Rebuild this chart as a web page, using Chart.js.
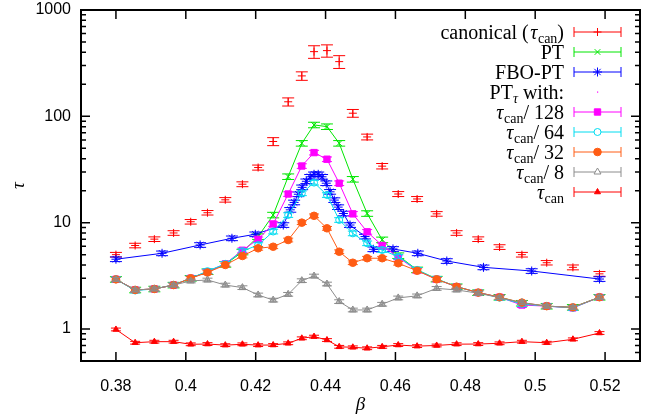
<!DOCTYPE html>
<html>
<head>
<meta charset="utf-8">
<script src="https://cdn.jsdelivr.net/npm/chart.js@4/dist/chart.umd.min.js"></script>
<style>
  html, body { margin: 0; padding: 0; background: #fff; }
</style>
</head>
<body>
<canvas id="tauChart" width="654" height="419"></canvas>
<script>
// beta grid shared by the canonical and PT_tau runs
const betaGrid = [0.380, 0.3855, 0.391, 0.3965, 0.4014, 0.4062, 0.4113, 0.4162, 0.4207, 0.4250,
  0.4293, 0.4332, 0.4367, 0.4404, 0.4439, 0.4478, 0.4519, 0.4562, 0.4608, 0.4662,
  0.4718, 0.4775, 0.4837, 0.4898, 0.4962, 0.5033, 0.5108, 0.5184];

const canonTau = [5.0, 6.1, 7.0, 8.0, 10.2, 12.4, 16.4, 23, 33, 58, 137, 240, 406, 415, 327, 107, 64, 34,
  18.6, 16.7, 12.1, 8.0, 7.0, 5.9, 5.0, 4.2, 3.8, 3.3];
const canonErr = [0.25, 0.3, 0.35, 0.4, 0.5, 0.6, 0.8, 1.2, 1.8, 5, 12, 22, 55, 55, 45, 9, 4, 2,
  1, 0.9, 0.6, 0.4, 0.35, 0.3, 0.25, 0.2, 0.2, 0.17];

const ptTau = [2.93, 2.33, 2.38, 2.59, 3.0, 3.46, 4.06, 5.3, 7.4, 11.8, 27.1, 55.8, 83, 80, 55.8, 25.6, 12.2, 6.9,
  4.9, 3.6, 2.95, 2.5, 2.2, 1.99, 1.75, 1.64, 1.6, 1.99];

const fboBeta = [0.380, 0.3932, 0.4041, 0.4132, 0.4199, 0.4279, 0.4299, 0.4310, 0.4322, 0.4333, 0.4345,
  0.4356, 0.4367, 0.4379, 0.4390, 0.4402, 0.4413, 0.4425, 0.4436, 0.4451, 0.4470, 0.4513, 0.4537,
  0.4593, 0.4664, 0.4747, 0.4852, 0.4990, 0.5184];
const fboTau = [4.53, 5.15, 6.17, 7.13, 7.78, 9.5, 13.2, 15.5, 18.5, 21.5, 24.5, 27, 28.5, 28.5, 27, 23.5,
  19.5, 16.3, 14, 12.2, 9.5, 7.4, 5.62, 5.66, 5.15, 4.36, 3.8, 3.51, 2.95];

const tau128 = [2.93, 2.33, 2.38, 2.59, 3.0, 3.46, 4.1, 5.5, 6.98, 9.72, 18.6, 34.1, 45.6, 39.5, 23.5, 12.1, 8.2, 6.1,
  4.72, 3.55, 2.93, 2.5, 2.2, 1.99, 1.68, 1.64, 1.58, 1.99];
const tau64 = [2.93, 2.3, 2.38, 2.6, 3.0, 3.5, 4.1, 5.4, 6.16, 8.25, 11.8, 18.9, 23.8, 18.2, 10.6, 7.93, 6.4, 5.53,
  4.79, 3.6, 2.95, 2.5, 2.2, 1.97, 1.72, 1.64, 1.58, 1.99];
const tau32 = [2.93, 2.33, 2.38, 2.59, 3.0, 3.4, 4.0, 4.86, 5.74, 5.94, 6.87, 10.0, 11.6, 8.85, 5.33, 4.2, 4.63, 4.63,
  4.15, 3.53, 2.93, 2.5, 2.2, 1.99, 1.77, 1.64, 1.6, 1.99];
const tau8 = [2.93, 2.33, 2.38, 2.59, 2.83, 2.89, 2.59, 2.45, 2.09, 1.87, 2.12, 2.85, 3.15, 2.65, 1.81, 1.51, 1.51, 1.71,
  1.96, 2.05, 2.41, 2.33, 2.17, 1.97, 1.77, 1.64, 1.6, 1.99];
const tauCan = [0.99, 0.743, 0.76, 0.76, 0.718, 0.722, 0.705, 0.718, 0.705, 0.707, 0.734, 0.818, 0.848, 0.788, 0.68,
  0.673, 0.659, 0.68, 0.707, 0.69, 0.70, 0.72, 0.722, 0.734, 0.76, 0.743, 0.8, 0.917];

// relative statistical errors of the PT runs
const relErr = { pt: 0.06, fbo: 0.05, t128: 0.05, t64: 0.05, t32: 0.04, t8: 0.04, can: 0.03 };

const xTicks = [0.38, 0.40, 0.42, 0.44, 0.46, 0.48, 0.50, 0.52];
const xTickLabels = ['0.38', '0.4', '0.42', '0.44', '0.46', '0.48', '0.5', '0.52'];
const yTicks = [1, 10, 100, 1000];
const yTickLabels = ['1', '10', '100', '1000'];

const legendLabels = ['canonical (τ_{can})', 'PT', 'FBO-PT', 'PT_{τ} with:', 'τ_{can}/ 128', 'τ_{can}/ 64', 'τ_{can}/ 32', 'τ_{can}/ 8', 'τ_{can}'];

const series = [
  { x: betaGrid, y: canonTau, err: canonErr, color: '#ff0000', fill: '#ff0000', style: 'cross', r: 4, line: false, cap: 6, legend: 0 },
  { x: betaGrid, y: ptTau, err: ptTau.map((v) => v * relErr.pt), color: '#00e600', fill: '#00e600', style: 'crossRot', r: 4, line: true, cap: 6, legend: 1 },
  { x: fboBeta, y: fboTau, err: fboTau.map((v) => v * relErr.fbo), color: '#0000ff', fill: '#0000ff', style: 'star', r: 4.5, line: true, cap: 6, legend: 2 },
  { x: betaGrid, y: tau128, err: tau128.map((v) => v * relErr.t128), color: '#ff00ff', fill: '#ff00ff', style: 'rect', r: 4.5, line: true, cap: 5, legend: 4 },
  { x: betaGrid, y: tau64, err: tau64.map((v) => v * relErr.t64), color: '#00dcf0', fill: 'rgba(255,255,255,0)', style: 'circle', r: 3.5, line: true, cap: 5, legend: 5 },
  { x: betaGrid, y: tau32, err: tau32.map((v) => v * relErr.t32), color: '#ff5c14', fill: '#ff5c14', style: 'circle', r: 3.8, line: true, cap: 5, legend: 6 },
  { x: betaGrid, y: tau8, err: tau8.map((v) => v * relErr.t8), color: '#8c8c8c', fill: 'rgba(140,140,140,0.55)', style: 'triangle', r: 4, line: true, cap: 5, legend: 7 },
  { x: betaGrid, y: tauCan, err: tauCan.map((v) => v * relErr.can), color: '#ff0000', fill: '#ff0000', style: 'triangle', r: 3.5, line: true, cap: 5, legend: 8 }
];

const SERIF = '"Liberation Serif", "DejaVu Serif", serif';
const SANS = '"Liberation Sans", "DejaVu Sans", sans-serif';

const errorBars = {
  id: 'errorBars',
  beforeDatasetDraw(chart, args) {
    const ds = chart.data.datasets[args.index];
    if (!ds.errs) return;
    const ys = chart.scales.y;
    const area = chart.chartArea;
    const ctx = chart.ctx;
    ctx.save();
    ctx.beginPath();
    ctx.rect(area.left, area.top, area.right - area.left, area.bottom - area.top);
    ctx.clip();
    ctx.strokeStyle = ds.borderColor;
    ctx.lineWidth = 1;
    args.meta.data.forEach((pt, j) => {
      const v = ds.data[j].y;
      const e = ds.errs[j];
      const lo = ys.getPixelForValue(Math.max(v - e, 1e-3));
      const hi = ys.getPixelForValue(v + e);
      const w = ds.capWidth;
      ctx.beginPath();
      ctx.moveTo(pt.x, lo); ctx.lineTo(pt.x, hi);
      ctx.moveTo(pt.x - w, lo); ctx.lineTo(pt.x + w, lo);
      ctx.moveTo(pt.x - w, hi); ctx.lineTo(pt.x + w, hi);
      ctx.stroke();
    });
    ctx.restore();
  }
};

// gnuplot-like frame with inward tics on all four sides
const frame = {
  id: 'frame',
  afterDatasetsDraw(chart) {
    const { ctx, chartArea: a } = chart;
    const xs = chart.scales.x;
    const ys = chart.scales.y;
    ctx.save();
    ctx.strokeStyle = '#000';
    ctx.lineWidth = 1.5;
    ctx.beginPath();
    xTicks.forEach((v) => {
      const px = xs.getPixelForValue(v);
      ctx.moveTo(px, a.bottom); ctx.lineTo(px, a.bottom - 9);
      ctx.moveTo(px, a.top); ctx.lineTo(px, a.top + 9);
    });
    for (let dec = 0.1; dec < 1000; dec *= 10) {
      for (let k = 1; k < 10; k++) {
        const v = dec * k;
        if (v < ys.min - 1e-9 || v > ys.max + 1e-9) continue;
        const len = k === 1 ? 9 : 5;
        const py = ys.getPixelForValue(v);
        ctx.moveTo(a.left, py); ctx.lineTo(a.left + len, py);
        ctx.moveTo(a.right, py); ctx.lineTo(a.right - len, py);
      }
    }
    ctx.stroke();
    ctx.lineWidth = 2;
    ctx.strokeRect(a.left, a.top, a.right - a.left, a.bottom - a.top);
    ctx.restore();
  }
};

function parseRich(s) {
  const out = [];
  let buf = '';
  let i = 0;
  const flush = () => { if (buf) { out.push({ t: buf, k: 'n' }); buf = ''; } };
  while (i < s.length) {
    if (s[i] === '_' && s[i + 1] === '{') {
      flush();
      const j = s.indexOf('}', i);
      out.push({ t: s.slice(i + 2, j), k: 's' });
      i = j + 1;
    } else if (s[i] === 'τ') {
      flush();
      out.push({ t: 'τ', k: 'i' });
      i++;
    } else {
      buf += s[i];
      i++;
    }
  }
  flush();
  return out;
}

function fontFor(p) {
  if (p.k === 's') return (p.t === 'τ' ? 'italic ' : '') + '14px ' + SERIF;
  if (p.k === 'i') return 'italic 20px ' + SERIF;
  return '20px ' + SERIF;
}

const legendBox = {
  id: 'legendBox',
  afterDraw(chart) {
    const ctx = chart.ctx;
    const textRight = 564;
    const sampleL = 574;
    const sampleR = 621;
    const rowTop = 32;
    const rowStep = 20;
    ctx.save();
    legendLabels.forEach((lab, row) => {
      const y = rowTop + row * rowStep;
      const parts = parseRich(lab);
      let width = 0;
      parts.forEach((p) => {
        ctx.font = fontFor(p);
        p.w = ctx.measureText(p.t).width + (p.k === 'i' ? 2 : 0);
        width += p.w;
      });
      let x = textRight - width;
      ctx.fillStyle = '#000';
      ctx.textBaseline = 'alphabetic';
      ctx.textAlign = 'left';
      parts.forEach((p) => {
        ctx.font = fontFor(p);
        ctx.fillText(p.t, x + (p.k === 'i' ? 1.5 : 0), y + (p.k === 's' ? 11 : 7));
        x += p.w;
      });

      const si = series.findIndex((s) => s.legend === row);
      const cx = (sampleL + sampleR) / 2;
      if (si < 0) {
        ctx.fillStyle = '#ff00ff';
        ctx.fillRect(cx - 0.5, y - 0.5, 1.2, 1.2);
        return;
      }
      const s = series[si];
      ctx.strokeStyle = s.color;
      ctx.lineWidth = 1;
      ctx.beginPath();
      ctx.moveTo(sampleL, y); ctx.lineTo(sampleR, y);
      ctx.moveTo(sampleL, y - 5); ctx.lineTo(sampleL, y + 5);
      ctx.moveTo(sampleR, y - 5); ctx.lineTo(sampleR, y + 5);
      ctx.stroke();
      ctx.fillStyle = (si === 4 || si === 6) ? '#fff' : s.fill;
      Chart.helpers.drawPoint(ctx, { pointStyle: s.style, radius: s.r, rotation: 0, borderWidth: 1 }, cx, y);
    });
    ctx.restore();
  }
};

const datasets = series.map((s, i) => ({
  label: legendLabels[s.legend],
  data: s.x.map((b, j) => ({ x: b, y: s.y[j] })),
  errs: s.err,
  capWidth: s.cap,
  borderColor: s.color,
  backgroundColor: s.fill,
  pointBorderColor: s.color,
  pointBackgroundColor: s.fill,
  pointStyle: s.style,
  pointRadius: s.r,
  pointBorderWidth: 1,
  showLine: s.line,
  borderWidth: 1,
  tension: 0,
  order: series.length - i
}));

new Chart(document.getElementById('tauChart'), {
  type: 'scatter',
  data: { datasets },
  plugins: [errorBars, frame, legendBox],
  options: {
    responsive: false,
    animation: false,
    devicePixelRatio: 1,
    layout: { padding: { top: 10, right: 14, left: 0, bottom: 0 } },
    plugins: { legend: { display: false }, tooltip: { enabled: false } },
    scales: {
      x: {
        type: 'linear',
        min: 0.37,
        max: 0.53,
        grid: { display: false },
        border: { display: false },
        afterBuildTicks: (scale) => { scale.ticks = xTicks.map((v) => ({ value: v })); },
        afterFit: (scale) => { scale.height = 58; scale.paddingLeft = 0; scale.paddingRight = 0; },
        ticks: {
          autoSkip: false,
          maxRotation: 0,
          padding: 8,
          color: '#000',
          font: { family: SANS, size: 16 },
          callback: (v) => xTickLabels[xTicks.findIndex((t) => Math.abs(t - v) < 1e-6)]
        },
        title: { display: true, text: 'β', color: '#000', padding: { top: 0, bottom: 3 }, font: { family: SERIF, size: 19, style: 'italic' } }
      },
      y: {
        type: 'logarithmic',
        min: 0.5,
        max: 1000,
        grid: { display: false },
        border: { display: false },
        afterBuildTicks: (scale) => { scale.ticks = yTicks.map((v) => ({ value: v })); },
        afterFit: (scale) => { scale.width = 81; scale.paddingTop = 0; scale.paddingBottom = 0; },
        ticks: {
          autoSkip: false,
          padding: 2,
          color: '#000',
          font: { family: SANS, size: 16 },
          callback: (v) => yTickLabels[yTicks.indexOf(v)]
        },
        title: { display: true, text: 'τ', color: '#000', padding: { top: 8, bottom: 0 }, font: { family: SERIF, size: 19, style: 'italic' } }
      }
    }
  }
});
</script>
</body>
</html>
